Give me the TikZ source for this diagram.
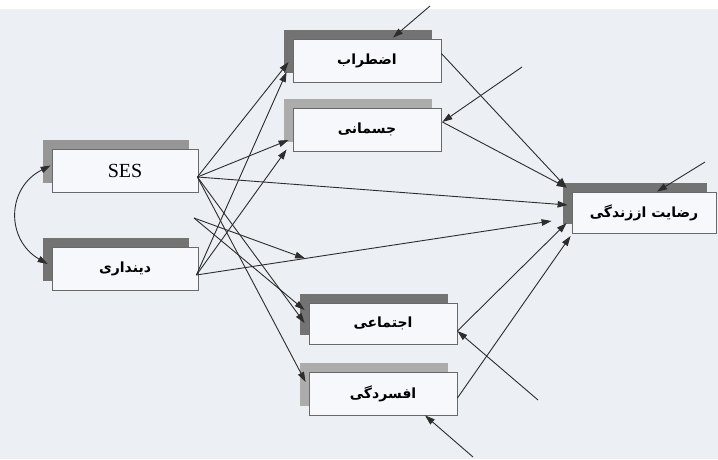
\documentclass[tikz,border=0pt]{standalone}
\usepackage{fontspec}
\setmainfont{Liberation Serif}
\newfontfamily\fa[Script=Arabic]{DejaVu Sans}
\TeXXeTstate=1
\usetikzlibrary{arrows.meta,shadows,calc}
\definecolor{bg}{RGB}{236,239,244}
\definecolor{boxfill}{RGB}{247,248,251}
\definecolor{edge}{RGB}{105,105,105}
\definecolor{shdark}{RGB}{115,115,115}
\definecolor{shmid}{RGB}{150,150,150}
\definecolor{shlight}{RGB}{172,172,172}
\definecolor{ln}{RGB}{45,45,45}
\begin{document}
\begin{tikzpicture}[x=1pt,y=-1pt,
  var/.style={draw=edge, fill=boxfill, line width=0.8pt, minimum width=148pt,
    minimum height=43pt, inner sep=0pt, font=\fa\bfseries\fontsize{14}{16}\selectfont},
  darksh/.style={general shadow={fill=shdark, shadow xshift=-9pt, shadow yshift=9pt}},
  midsh/.style={general shadow={fill=shmid, shadow xshift=-9pt, shadow yshift=9pt}},
  lightsh/.style={general shadow={fill=shlight, shadow xshift=-9pt, shadow yshift=9pt}},
  link/.style={draw=ln, line width=0.9pt, -{Triangle[length=10pt,width=6.5pt]}},
  plain/.style={draw=ln, line width=0.9pt}
]
\useasboundingbox (0,0) rectangle (718,459);
\fill[bg] (0,0) rectangle (718,459);
\fill[white] (0,0) rectangle (718,9);

% variables
\node[var,midsh,minimum width=146pt,font=\fontsize{20}{22}\selectfont] (ses) at (125,170.5) {SES};
\node[var,darksh,minimum width=146pt] (din) at (125,268.5) {\beginR دینداری\endR};
\node[var,darksh] (ez) at (367,60.5) {\beginR اضطراب\endR};
\node[var,lightsh] (jm) at (367,129.5) {\beginR جسمانی\endR};
\node[var,darksh,minimum width=144pt,minimum height=41pt] (rz) at (644,212.5) {\beginR رضایت اززندگی\endR};
\node[var,darksh,minimum height=41pt] (ej) at (383,323.5) {\beginR اجتماعی\endR};
\node[var,lightsh] (af) at (383,393.5) {\beginR افسردگی\endR};

% connection points
\coordinate (sesout) at ($(ses.east)+(-1,6.5)$);
\coordinate (dinout) at ($(din.east)+(-2,6.5)$);
\coordinate (inter) at (194,218);
\coordinate (sesL) at ($(ses.west)+(-1,-5)$);
\coordinate (dinL) at ($(din.west)+(-4,-4.5)$);
\coordinate (ezA) at ($(ez.west)+(-4,1.5)$);
\coordinate (ezB) at ($(ez.west)+(-6,11.5)$);
\coordinate (ezT) at ($(ez.north)+(26,-1)$);
\coordinate (ezO) at ($(ez.east)+(0,-7)$);
\coordinate (jmA) at ($(jm.west)+(-4,10.5)$);
\coordinate (jmB) at ($(jm.west)+(-6,20)$);
\coordinate (jmO) at ($(jm.east)+(1,-7.5)$);
\coordinate (rzA) at ($(rz.north west)+(-5,-4)$);
\coordinate (rzS) at ($(rz.west)+(-4,-7.5)$);
\coordinate (rzD) at ($(rz.west)+(-20,8.5)$);
\coordinate (rzE) at ($(rz.west)+(-5,10.5)$);
\coordinate (rzF) at ($(rz.west)+(-1,23.5)$);
\coordinate (rzT) at ($(rz.north)+(13,0)$);
\coordinate (ejA) at ($(ej.west)+(-4,-13.5)$);
\coordinate (ejB) at ($(ej.west)+(-4,-0.5)$);
\coordinate (ejO) at ($(ej.east)+(0,7.5)$);
\coordinate (afA) at ($(af.west)+(-3,-11.5)$);
\coordinate (afO) at ($(af.east)+(0,4.5)$);
\coordinate (afB) at ($(af.south)+(42,0)$);
% free ends of the error arrows
\coordinate (eEz) at (430,6);
\coordinate (eJm) at (522,67);
\coordinate (eRz) at (705,162);
\coordinate (eEj) at (538,400);
\coordinate (eAf) at (473,457);

% correlation
\draw[plain,{Triangle[length=10pt,width=6.5pt]}-{Triangle[length=10pt,width=6.5pt]}]
  (sesL) .. controls (6,188) and (6,240) .. (dinL);

% paths from SES
\draw[link] (sesout) -- (ezA);
\draw[link] (sesout) -- (jmA);
\draw[link] (sesout) -- (rzS);
\draw[link] (sesout) -- (ejB);
\draw[link] (sesout) -- (afA);

% paths from religiosity
\draw[link] (dinout) -- (ezB);
\draw[link] (dinout) -- (jmB);
\draw[link] (dinout) -- coordinate[pos=0.306] (mid) (rzD);

% interaction term
\draw[link] (inter) -- (mid);
\draw[link] (inter) -- (ejA);

% mediators to satisfaction
\draw[link] (ezO) -- (rzA);
\draw[link] (jmO) -- (rzA);
\draw[link] (ejO) -- (rzE);
\draw[link] (afO) -- (rzF);

% error terms
\draw[link] (eEz) -- (ezT);
\draw[link] (eJm) -- (jmO);
\draw[link] (eRz) -- (rzT);
\draw[link] (eEj) -- (ejO);
\draw[link] (eAf) -- (afB);
\end{tikzpicture}
\end{document}
